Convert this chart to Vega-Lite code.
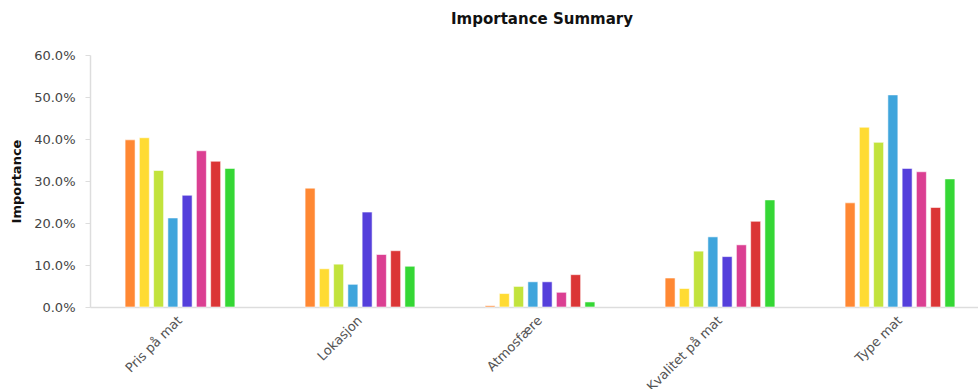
{
  "$schema": "https://vega.github.io/schema/vega-lite/v6.json",
  "autosize": {"type": "none"},
  "width": 888,
  "height": 252,
  "padding": {"left": 90, "top": 55, "right": 0, "bottom": 82},
  "background": "white",
  "title": {"text": "Importance Summary", "font": "DejaVu Sans", "fontSize": 15, "fontWeight": "bold", "color": "#111", "anchor": "middle", "offset": 22, "dx": 8},
  "config": {"view": {"stroke": null}, "font": "DejaVu Sans"},
  "data": {"values": [
    {"cat": "Pris på mat", "s": "s1", "v": 0.398},
    {"cat": "Pris på mat", "s": "s2", "v": 0.403},
    {"cat": "Pris på mat", "s": "s3", "v": 0.325},
    {"cat": "Pris på mat", "s": "s4", "v": 0.212},
    {"cat": "Pris på mat", "s": "s5", "v": 0.266},
    {"cat": "Pris på mat", "s": "s6", "v": 0.372},
    {"cat": "Pris på mat", "s": "s7", "v": 0.347},
    {"cat": "Pris på mat", "s": "s8", "v": 0.330},
    {"cat": "Lokasjon", "s": "s1", "v": 0.283},
    {"cat": "Lokasjon", "s": "s2", "v": 0.091},
    {"cat": "Lokasjon", "s": "s3", "v": 0.102},
    {"cat": "Lokasjon", "s": "s4", "v": 0.054},
    {"cat": "Lokasjon", "s": "s5", "v": 0.226},
    {"cat": "Lokasjon", "s": "s6", "v": 0.125},
    {"cat": "Lokasjon", "s": "s7", "v": 0.134},
    {"cat": "Lokasjon", "s": "s8", "v": 0.097},
    {"cat": "Atmosfære", "s": "s1", "v": 0.003},
    {"cat": "Atmosfære", "s": "s2", "v": 0.032},
    {"cat": "Atmosfære", "s": "s3", "v": 0.049},
    {"cat": "Atmosfære", "s": "s4", "v": 0.060},
    {"cat": "Atmosfære", "s": "s5", "v": 0.060},
    {"cat": "Atmosfære", "s": "s6", "v": 0.035},
    {"cat": "Atmosfære", "s": "s7", "v": 0.077},
    {"cat": "Atmosfære", "s": "s8", "v": 0.012},
    {"cat": "Kvalitet på mat", "s": "s1", "v": 0.069},
    {"cat": "Kvalitet på mat", "s": "s2", "v": 0.044},
    {"cat": "Kvalitet på mat", "s": "s3", "v": 0.133},
    {"cat": "Kvalitet på mat", "s": "s4", "v": 0.167},
    {"cat": "Kvalitet på mat", "s": "s5", "v": 0.120},
    {"cat": "Kvalitet på mat", "s": "s6", "v": 0.148},
    {"cat": "Kvalitet på mat", "s": "s7", "v": 0.204},
    {"cat": "Kvalitet på mat", "s": "s8", "v": 0.255},
    {"cat": "Type mat", "s": "s1", "v": 0.248},
    {"cat": "Type mat", "s": "s2", "v": 0.428},
    {"cat": "Type mat", "s": "s3", "v": 0.392},
    {"cat": "Type mat", "s": "s4", "v": 0.505},
    {"cat": "Type mat", "s": "s5", "v": 0.330},
    {"cat": "Type mat", "s": "s6", "v": 0.322},
    {"cat": "Type mat", "s": "s7", "v": 0.237},
    {"cat": "Type mat", "s": "s8", "v": 0.305}
  ]},
  "mark": {"type": "bar", "stroke": "#ffffff", "strokeWidth": 0.8, "strokeOpacity": 0.7},
  "encoding": {
    "x": {
      "field": "cat", "type": "nominal", "sort": null,
      "scale": {"range": [0, 900], "paddingInner": 0.39, "paddingOuter": 0.195},
      "axis": {"title": null, "labelAngle": -45, "labelAlign": "right", "labelBaseline": "middle", "labelColor": "#555", "labelFontSize": 13, "labelPadding": 11, "ticks": false, "domainColor": "#ddd", "domainWidth": 1.5, "labelOverlap": false}
    },
    "xOffset": {"field": "s", "type": "nominal", "scale": {"paddingInner": 0.3, "paddingOuter": 0}},
    "y": {
      "field": "v", "type": "quantitative",
      "scale": {"domain": [0, 0.6], "nice": false},
      "axis": {"title": "Importance", "titleFontSize": 13, "titleFontWeight": "bold", "titleColor": "#111", "titlePadding": 10, "format": ".1%", "values": [0, 0.1, 0.2, 0.3, 0.4, 0.5, 0.6], "labelColor": "#444", "labelFontSize": 13, "labelPadding": 10, "tickSize": 5, "tickColor": "#ddd", "domainColor": "#ddd", "domainWidth": 1.5, "grid": false}
    },
    "color": {
      "field": "s", "type": "nominal", "legend": null,
      "scale": {"domain": ["s1","s2","s3","s4","s5","s6","s7","s8"], "range": ["#FF8833", "#FFDB33", "#C2E33C", "#3FA5DC", "#553FDB", "#DB3F92", "#DB3535", "#35D735"]}
    }
  }
}
